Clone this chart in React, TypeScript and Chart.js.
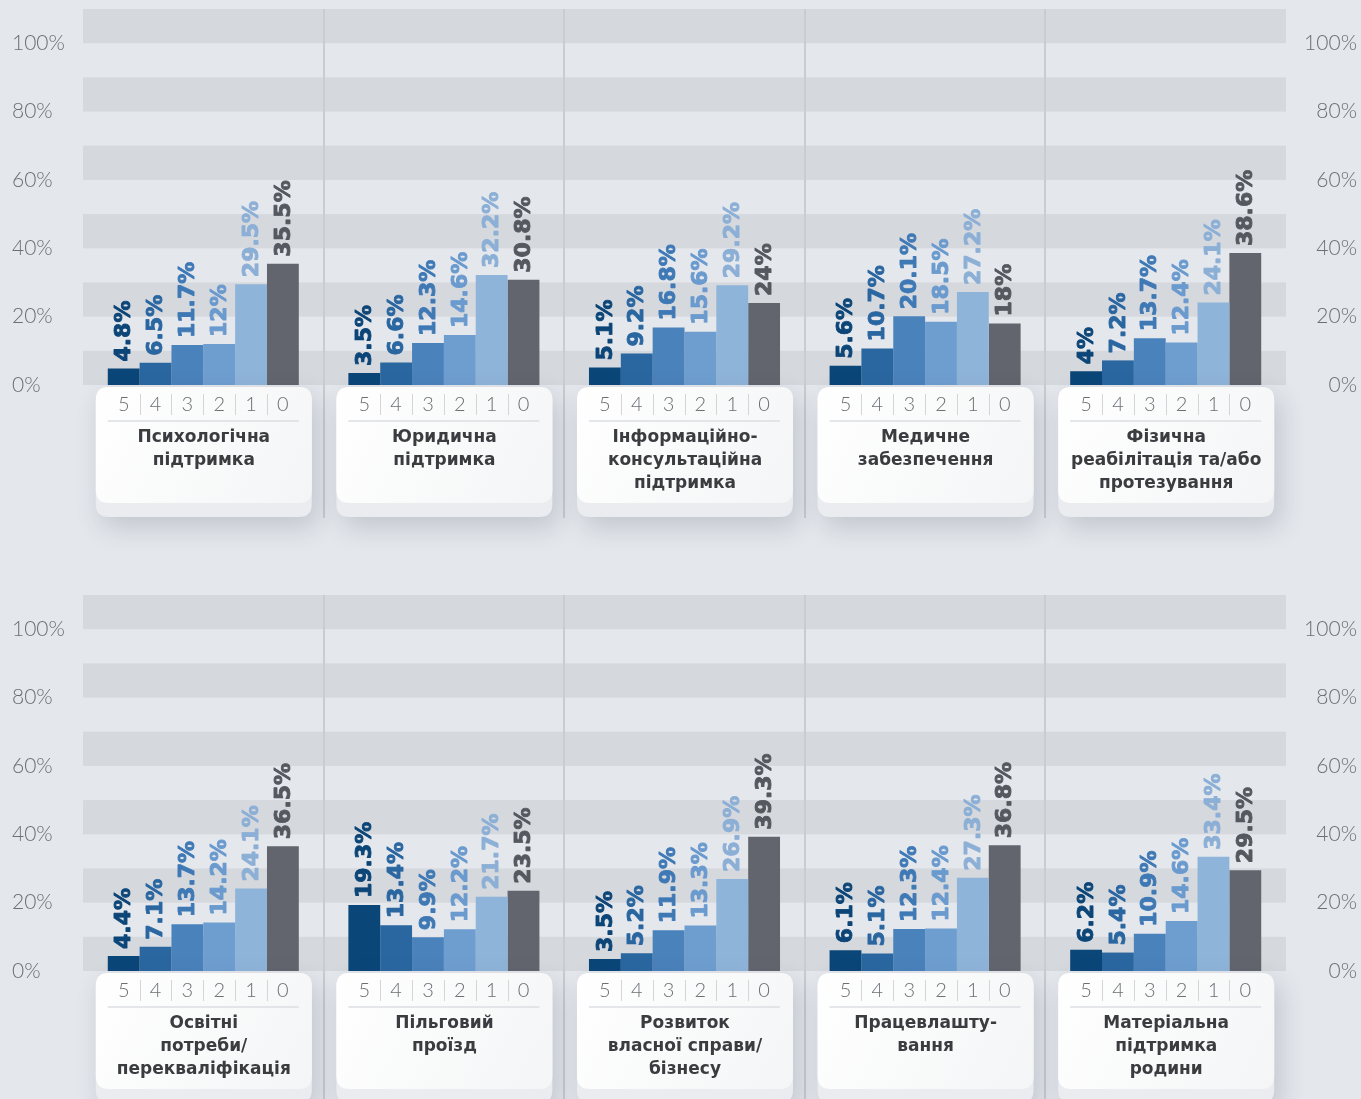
import React, { useEffect, useRef } from "react";
import { Chart, registerables } from "chart.js";

Chart.register(...registerables);

// ---------- data ----------
const seriesLabels = ["5", "4", "3", "2", "1", "0"];
const yTickValues = [0, 20, 40, 60, 80, 100];

const topCategories: string[][] = [
  ["Психологічна", "підтримка"],
  ["Юридична", "підтримка"],
  ["Інформаційно-", "консультаційна", "підтримка"],
  ["Медичне", "забезпечення"],
  ["Фізична", "реабілітація та/або", "протезування"],
];
const psychological = [4.8, 6.5, 11.7, 12, 29.5, 35.5];
const legal = [3.5, 6.6, 12.3, 14.6, 32.2, 30.8];
const informational = [5.1, 9.2, 16.8, 15.6, 29.2, 24];
const medical = [5.6, 10.7, 20.1, 18.5, 27.2, 18];
const rehabilitation = [4, 7.2, 13.7, 12.4, 24.1, 38.6];

const bottomCategories: string[][] = [
  ["Освітні", "потреби/", "перекваліфікація"],
  ["Пільговий", "проїзд"],
  ["Розвиток", "власної справи/", "бізнесу"],
  ["Працевлашту-", "вання"],
  ["Матеріальна", "підтримка", "родини"],
];
const education = [4.4, 7.1, 13.7, 14.2, 24.1, 36.5];
const transport = [19.3, 13.4, 9.9, 12.2, 21.7, 23.5];
const business = [3.5, 5.2, 11.9, 13.3, 26.9, 39.3];
const employment = [6.1, 5.1, 12.3, 12.4, 27.3, 36.8];
const familySupport = [6.2, 5.4, 10.9, 14.6, 33.4, 29.5];

const topValues = [psychological, legal, informational, medical, rehabilitation];
const bottomValues = [education, transport, business, employment, familySupport];

// ---------- styles ----------
const BG = "#e4e7ec";
const BAND = "#d5d8dd";
const barColors = ["#0b4679", "#2a67a1", "#4a82bc", "#6e9ed0", "#8fb4da", "#62656d"];
const labelColors = ["#0c4577", "#2a66a0", "#3f79b5", "#6a9ace", "#8cafd6", "#55585f"];
const TICK_COLOR = "#6c6f74";
const NAME_COLOR = "#3b3c40";
const W = 1361;
const H = 586;

function roundRect(ctx: CanvasRenderingContext2D, x: number, y: number, w: number, h: number, r: number) {
  ctx.beginPath();
  ctx.moveTo(x + r, y);
  ctx.lineTo(x + w - r, y);
  ctx.quadraticCurveTo(x + w, y, x + w, y + r);
  ctx.lineTo(x + w, y + h - r);
  ctx.quadraticCurveTo(x + w, y + h, x + w - r, y + h);
  ctx.lineTo(x + r, y + h);
  ctx.quadraticCurveTo(x, y + h, x, y + h - r);
  ctx.lineTo(x, y + r);
  ctx.quadraticCurveTo(x, y, x + r, y);
  ctx.closePath();
}

const bandsPlugin = {
  id: "bands",
  beforeDraw(chart: any) {
    const { ctx, chartArea } = chart;
    const y = chart.scales.y;
    const x = chart.scales.x;
    ctx.save();
    ctx.fillStyle = BAND;
    for (let v = 0; v <= 100; v += 20) {
      const top = y.getPixelForValue(v + 10);
      const bot = y.getPixelForValue(v);
      ctx.fillRect(chartArea.left, top, chartArea.right - chartArea.left, bot - top);
    }
    const n = chart.data.labels.length;
    ctx.strokeStyle = "#c9ccd1";
    ctx.lineWidth = 2;
    for (let i = 1; i < n; i++) {
      const px = Math.round((x.getPixelForValue(i - 1) + x.getPixelForValue(i)) / 2);
      ctx.beginPath();
      ctx.moveTo(px, chartArea.top);
      ctx.lineTo(px, chartArea.bottom + 133);
      ctx.stroke();
    }
    ctx.restore();
  },
};

const valueLabelsPlugin = {
  id: "valueLabels",
  afterDatasetsDraw(chart: any) {
    const { ctx } = chart;
    ctx.save();
    ctx.font = 'bold 22px "DejaVu Sans"';
    ctx.textAlign = "left";
    ctx.textBaseline = "middle";
    ctx.lineWidth = 0.9;
    ctx.lineJoin = "round";
    chart.data.datasets.forEach((ds: any, d: number) => {
      const meta = chart.getDatasetMeta(d);
      ctx.fillStyle = labelColors[d];
      ctx.strokeStyle = labelColors[d];
      meta.data.forEach((el: any, i: number) => {
        const v = ds.data[i];
        ctx.save();
        ctx.translate(el.x + 1, el.y - 7);
        ctx.rotate(-Math.PI / 2);
        ctx.fillText(v + "%", 0, 0);
        ctx.strokeText(v + "%", 0, 0);
        ctx.restore();
      });
    });
    ctx.restore();
  },
};

function makeCardsPlugin(names: string[][]) {
  return {
    id: "cards",
    afterDraw(chart: any) {
      const { ctx, chartArea } = chart;
      const B = chartArea.bottom;
      const x = chart.scales.x;
      const nData = chart.data.datasets.length;
      names.forEach((lines, i) => {
        const cx = x.getPixelForValue(i) + 0.5;
        const cw = 216;
        const left = cx - cw / 2;
        const top = B + 2;
        // outer card with shadow
        ctx.save();
        ctx.shadowColor = "rgba(55,65,85,0.20)";
        ctx.shadowBlur = 26;
        ctx.shadowOffsetX = 6;
        ctx.shadowOffsetY = 10;
        roundRect(ctx, left, top, cw, 130, 13);
        ctx.fillStyle = "#eaecef";
        ctx.fill();
        ctx.restore();
        // inner white face
        ctx.save();
        const g = ctx.createLinearGradient(left, top, left + cw, top + 116);
        g.addColorStop(0, "#ffffff");
        g.addColorStop(1, "#f4f5f6");
        roundRect(ctx, left, top, cw, 116, 13);
        ctx.fillStyle = g;
        ctx.fill();
        ctx.restore();

        // tick numbers & dividers
        ctx.save();
        ctx.font = '300 20px Lato, "DejaVu Sans"';
        ctx.fillStyle = TICK_COLOR;
        ctx.textAlign = "center";
        ctx.textBaseline = "middle";
        let minX = Infinity;
        let maxX = -Infinity;
        for (let d = 0; d < nData; d++) {
          const el = chart.getDatasetMeta(d).data[i];
          const half = el.width / 2;
          minX = Math.min(minX, el.x - half);
          maxX = Math.max(maxX, el.x + half);
          ctx.fillText(seriesLabels[d], el.x, B + 20);
          if (d < nData - 1) {
            const bx = Math.round(el.x + half) + 0.5;
            ctx.strokeStyle = "#d3d5d9";
            ctx.lineWidth = 1;
            ctx.beginPath();
            ctx.moveTo(bx, B + 9);
            ctx.lineTo(bx, B + 30);
            ctx.stroke();
          }
        }
        ctx.strokeStyle = "#dcdee2";
        ctx.lineWidth = 1.5;
        ctx.beginPath();
        ctx.moveTo(minX, B + 36);
        ctx.lineTo(maxX, B + 36);
        ctx.stroke();

        // category name
        ctx.font = 'bold 17px "DejaVu Sans"';
        ctx.fillStyle = NAME_COLOR;
        lines.forEach((ln, k) => {
          ctx.fillText(ln, cx, B + 53 + k * 23);
        });
        ctx.restore();
      });
    },
  };
}

function RowChart({ names, values }: { names: string[][]; values: number[][] }) {
  const ref = useRef<HTMLCanvasElement | null>(null);
  useEffect(() => {
    if (!ref.current) return;
    const datasets = seriesLabels.map((s, d) => ({
      label: s,
      data: values.map((g) => g[d]),
      backgroundColor: barColors[d],
      borderWidth: 0,
      categoryPercentage: 0.794,
      barPercentage: 1.0,
    }));
    const yCommon = (position: "left" | "right") => ({
      position,
      min: 0,
      max: 110,
      grid: { display: false },
      border: { display: false },
      afterBuildTicks: (scale: any) => {
        scale.ticks = yTickValues.map((v) => ({ value: v }));
      },
      afterFit: (scale: any) => {
        scale.width = 71;
        scale.paddingTop = 0;
        scale.paddingBottom = 0;
      },
      ticks: {
        crossAlign: "far",
        color: TICK_COLOR,
        font: { family: "Lato, 'DejaVu Sans'", size: 21, weight: "300" },
        callback: (v: any) => v + "%",
      },
    });
    const chart = new Chart(ref.current, {
      type: "bar",
      data: { labels: names.map((n) => n.join(" ")), datasets },
      options: {
        animation: false,
        responsive: false,
        devicePixelRatio: 1,
        layout: { padding: { top: 9, bottom: 201, left: 12, right: 4 } },
        plugins: { legend: { display: false }, tooltip: { enabled: false } },
        scales: {
          x: { display: false },
          y: yCommon("left") as any,
          y2: yCommon("right") as any,
        },
      },
      plugins: [bandsPlugin, valueLabelsPlugin, makeCardsPlugin(names)],
    } as any);
    return () => chart.destroy();
  }, [names, values]);
  return <canvas ref={ref} width={W} height={H} style={{ display: "block", width: W, height: H }} />;
}

export default function App() {
  useEffect(() => {
    document.body.style.margin = "0";
    document.body.style.background = BG;
  }, []);
  return (
    <div style={{ position: "absolute", left: 0, top: 0, width: W, height: 1099, overflow: "hidden", background: BG }}>
      <RowChart names={topCategories} values={topValues} />
      <RowChart names={bottomCategories} values={bottomValues} />
    </div>
  );
}
